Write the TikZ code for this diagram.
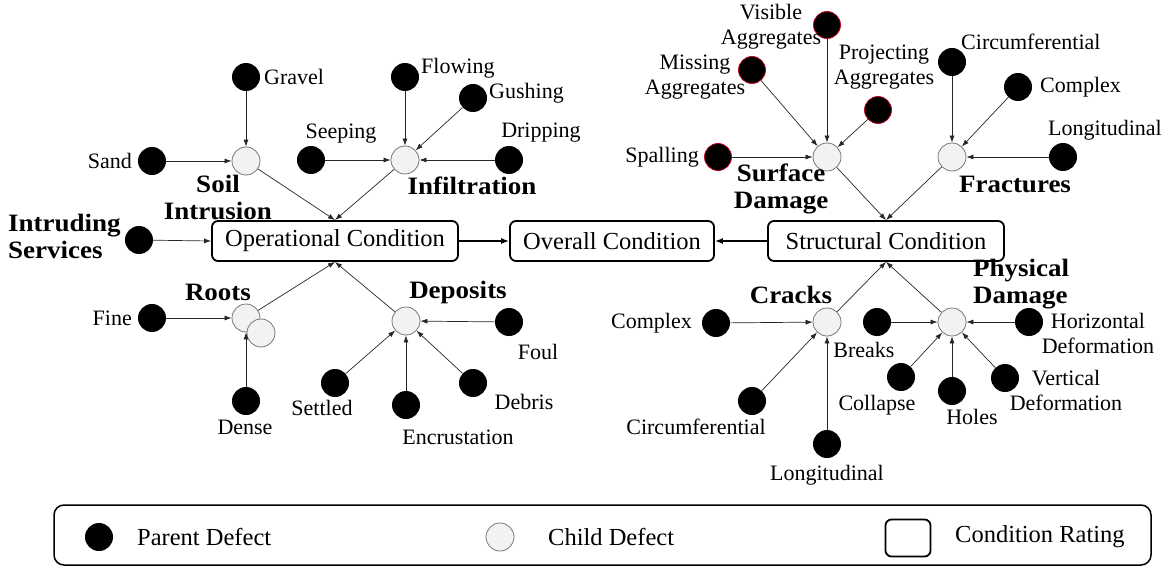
\documentclass[tikz,border=0pt]{standalone}
\usepackage{fontspec}
\setmainfont{Liberation Serif}
\newfontfamily\headfont[FakeStretch=1.08]{Liberation Serif}
\usetikzlibrary{arrows.meta}
\definecolor{childfill}{RGB}{242,242,242}
\definecolor{childline}{RGB}{120,120,120}
\definecolor{rimred}{RGB}{190,0,30}
\tikzset{
  parent/.style={circle, fill=black, minimum size=28pt, inner sep=0pt},
  redparent/.style={parent, draw=rimred, line width=0.8pt, minimum size=27pt},
  child/.style={circle, fill=childfill, draw=childline, line width=0.8pt, minimum size=28pt, inner sep=0pt},
  rating/.style={draw, rounded corners=6pt, line width=1.8pt, minimum height=40pt, inner sep=0pt,
    font=\fontsize{24.5}{28}\selectfont},
  lbl/.style={inner sep=0pt, align=center, font=\fontsize{22}{25}\selectfont},
  head/.style={inner sep=0pt, align=center, font=\headfont\bfseries\fontsize{25}{27}\selectfont},
  legtext/.style={inner sep=0pt, anchor=west, font=\fontsize{24.5}{28}\selectfont},
  link/.style={-{Latex[length=7pt,width=5pt]}, line width=0.7pt, draw=black!85},
  mainlink/.style={-{Latex[length=8pt,width=6pt]}, line width=1.8pt}
}
\begin{document}
\begin{tikzpicture}[x=1pt, y=-1pt]
\useasboundingbox (0,0) rectangle (1165,567);

% condition ratings
\node[rating, minimum width=246pt] (op) at (335,241) {Operational Condition};
\node[rating, minimum width=204pt] (overall) at (612,241) {Overall Condition};
\node[rating, minimum width=236pt] (struct) at (886,241) {Structural Condition};

% ---------- operational side ----------
\node[child] (soil) at (246,161) {};
\node[parent] (gravel) at (246,77) {};
\node[parent] (sand) at (152,161) {};
\node[lbl, anchor=west] (tgravel) at (264,77) {Gravel};
\node[lbl, anchor=east] (tsand) at (132,161) {Sand};
\node[head] (tsoil) at (218,197) {Soil\\Intrusion};

\node[child] (infil) at (405,160) {};
\node[parent] (seeping) at (311,160) {};
\node[parent] (flowing) at (405,77) {};
\node[parent] (gushing) at (473,98) {};
\node[parent] (dripping) at (509,160) {};
\node[lbl] (tseeping) at (341,134) {Seeping};
\node[lbl, anchor=west] (tflowing) at (421,68) {Flowing};
\node[lbl, anchor=west] (tgushing) at (489,93) {Gushing};
\node[lbl] (tdripping) at (541,133) {Dripping};
\node[head] (tinfil) at (472,186) {Infiltration};

\node[parent] (intruding) at (139,240) {};
\node[head, align=left, anchor=west] (tintruding) at (8,236) {Intruding\\Services};

\node[child] (roots) at (246,318) {};
\node[parent] (fine) at (152,318) {};
\node[parent] (dense) at (246,401) {};
\node[lbl, anchor=east] (tfine) at (132,318) {Fine};
\node[lbl] (tdense) at (245,427) {Dense};
\node[head] (troots) at (218,292) {Roots};

\node[child] (deposits) at (406,321) {};
\node[parent] (foul) at (509,322) {};
\node[parent] (settled) at (335,383) {};
\node[parent] (encrust) at (406,405) {};
\node[parent] (debris) at (473,383) {};
\node[lbl] (tfoul) at (538,352) {Foul};
\node[lbl] (tsettled) at (322,408) {Settled};
\node[lbl] (tencrust) at (458,437) {Encrustation};
\node[lbl] (tdebris) at (524,402) {Debris};
\node[head] (tdeposits) at (458,292) {Deposits};

% ---------- structural side ----------
\node[child] (surface) at (827,157) {};
\node[redparent] (visible) at (827,25) {};
\node[redparent] (missing) at (752,70) {};
\node[redparent] (project) at (878,110) {};
\node[redparent] (spalling) at (718,157) {};
\node[lbl] (tvisible) at (771,27) {Visible\\Aggregates};
\node[lbl] (tmissing) at (695,77) {Missing\\Aggregates};
\node[lbl] (tproject) at (884,67) {Projecting\\Aggregates};
\node[lbl, anchor=east] (tspalling) at (699,157) {Spalling};
\node[head] (tsurface) at (781,189) {Surface\\Damage};

\node[child] (fract) at (952,157) {};
\node[parent] (fcirc) at (952,62) {};
\node[parent] (fcomplex) at (1018,87) {};
\node[parent] (flong) at (1063,157) {};
\node[lbl, anchor=west] (tfcirc) at (961,42) {Circumferential};
\node[lbl, anchor=west] (tfcomplex) at (1040,87) {Complex};
\node[lbl] (tflong) at (1105,130) {Longitudinal};
\node[head] (tfract) at (1015,184) {Fractures};

\node[child] (cracks) at (827,322) {};
\node[parent] (ccomplex) at (716,323) {};
\node[parent] (ccirc) at (752,401) {};
\node[parent] (clong) at (827,444) {};
\node[lbl, anchor=east] (tccomplex) at (692,323) {Complex};
\node[lbl] (tccirc) at (696,427) {Circumferential};
\node[lbl] (tclong) at (827,475) {Longitudinal};
\node[head] (tcracks) at (791,295) {Cracks};

\node[child] (phys) at (952,322) {};
\node[parent] (breaks) at (877,322) {};
\node[parent] (horiz) at (1029,322) {};
\node[parent] (collapse) at (901,377) {};
\node[parent] (holes) at (952,391) {};
\node[parent] (vert) at (1005,378) {};
\node[lbl] (tbreaks) at (864,350) {Breaks};
\node[lbl] (thoriz) at (1098,333) {Horizontal\\Deformation};
\node[lbl] (tcollapse) at (877,405) {Collapse};
\node[lbl] (tholes) at (972,417) {Holes};
\node[lbl] (tvert) at (1066,390) {Vertical\\Deformation};
\node[head, align=left, anchor=west] (tphys) at (973,284) {Physical\\Damage};

% ---------- connectors ----------
\draw[mainlink] (op) -- (overall);
\draw[mainlink] (struct) -- (overall);

\draw[link] (gravel) -- (soil);
\draw[link] (sand) -- (soil);
\draw[link] (seeping) -- (infil);
\draw[link] (flowing) -- (infil);
\draw[link] (gushing) -- (infil);
\draw[link] (dripping) -- (infil);
\draw[link] (soil) -- (op.north);
\draw[link] (infil) -- (op.north);
\draw[link] (intruding) -- (op.west);

\draw[link] (roots) -- (op.south);
\draw[link] (deposits) -- (op.south);
\draw[link] (fine) -- (roots);
\draw[link] (foul) -- (deposits);
\draw[link] (settled) -- (deposits);
\draw[link] (encrust) -- (deposits);
\draw[link] (debris) -- (deposits);

\draw[link] (visible) -- (surface);
\draw[link] (missing) -- (surface);
\draw[link] (project) -- (surface);
\draw[link] (spalling) -- (surface);
\draw[link] (fcirc) -- (fract);
\draw[link] (fcomplex) -- (fract);
\draw[link] (flong) -- (fract);
\draw[link] (surface) -- (struct.north);
\draw[link] (fract) -- (struct.north);

\draw[link] (cracks) -- (struct.south);
\draw[link] (phys) -- (struct.south);
\draw[link] (ccomplex) -- (cracks);
\draw[link] (ccirc) -- (cracks);
\draw[link] (clong) -- (cracks);
\draw[link] (breaks) -- (phys);
\draw[link] (horiz) -- (phys);
\draw[link] (collapse) -- (phys);
\draw[link] (holes) -- (phys);
\draw[link] (vert) -- (phys);

% second root circle drawn over the first, then the dense link on top
\node[child] (roots2) at (261,333) {};
\draw[link] (dense) -- (roots);

% ---------- legend ----------
\node[draw, rounded corners=10pt, line width=1.5pt, minimum width=1097pt, minimum height=60pt,
  inner sep=0pt] (legend) at (602.5,535) {};
\node[parent] (lparent) at (99,537) {};
\node[legtext] (tlparent) at (137,537) {Parent Defect};
\node[child] (lchild) at (500,537) {};
\node[legtext] (tlchild) at (548,537) {Child Defect};
\node[draw, rounded corners=6pt, line width=1.8pt, minimum width=45pt, minimum height=37pt,
  inner sep=0pt] (lrating) at (908,538) {};
\node[legtext] (tlrating) at (955,537) {Condition Rating};
\end{tikzpicture}
\end{document}
